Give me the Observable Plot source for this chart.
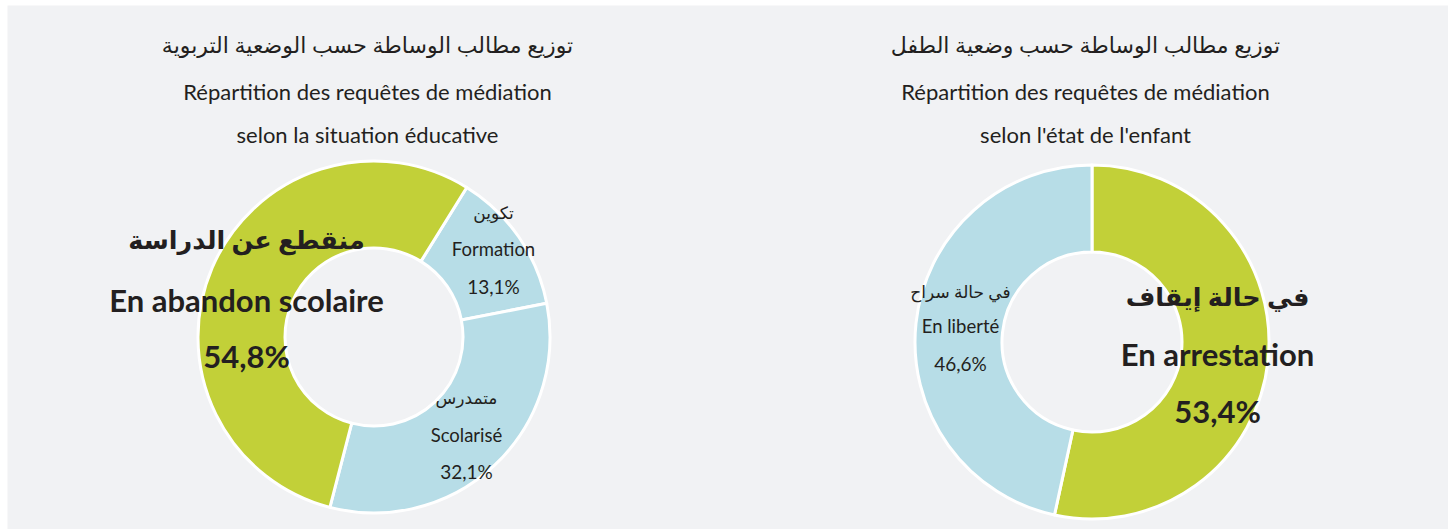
<!DOCTYPE html>
<html><head><meta charset="utf-8">
<script src="https://cdn.jsdelivr.net/npm/d3@7"></script>
<script src="https://cdn.jsdelivr.net/npm/@observablehq/plot@0.6"></script>
<style>body{margin:0;background:#fff;} svg{display:block;}</style>
</head><body><div id="chart"></div>
<script>
// ---- data ----
const eduCategories = ["Formation", "Scolarisé", "En abandon scolaire"];
const eduArabic = ["تكوين", "متمدرس", "منقطع عن الدراسة"];
const eduValues = [13.1, 32.1, 54.8];
const eduLabels = ["13,1%", "32,1%", "54,8%"];

const childCategories = ["En arrestation", "En liberté"];
const childArabic = ["في حالة إيقاف", "في حالة سراح"];
const childValues = [53.4, 46.6];
const childLabels = ["53,4%", "46,6%"];

const titlesArabic = ["توزيع مطالب الوساطة حسب الوضعية التربوية", "توزيع مطالب الوساطة حسب وضعية الطفل"];
const titlesLine1 = ["Répartition des requêtes de médiation", "Répartition des requêtes de médiation"];
const titlesLine2 = ["selon la situation éducative", "selon l'état de l'enfant"];

const highlighted = ["En abandon scolaire", "En arrestation"];

// ---- layout / style ----
const W = 1448, H = 529;
const GREEN = "#c2d038", BLUE = "#b7dde7", INK = "#231f20", BG = "#f1f2f4";
const FONT = "Lato, 'DejaVu Sans', sans-serif";
const donuts = [
  {cats: eduCategories, vals: eduValues, cx: 374, cy: 337, r0: 89, r1: 176, start: 31.8},
  {cats: childCategories, vals: childValues, cx: 1092, cy: 342, r0: 90, r1: 177, start: 0}
];
const titlePos = [{x: 367, y: [45, 92, 135]}, {x: 1085, y: [45, 92, 135]}];
// label anchor per category: x, and y of the three lines
const labelPos = {
  "Formation": {x: 493, y: [213, 250, 287]},
  "Scolarisé": {x: 466, y: [398, 436, 472]},
  "En abandon scolaire": {x: 246, y: [240, 302, 358]},
  "En arrestation": {x: 1217, y: [297, 356, 413]},
  "En liberté": {x: 960, y: [292, 327, 364]}
};

const color = Plot.scale({
  color: {
    type: "ordinal",
    domain: [...eduCategories, ...childCategories],
    range: [...eduCategories, ...childCategories].map(c => highlighted.includes(c) ? GREEN : BLUE)
  }
});

// ---- text rows ----
const titleRows = [];
titlePos.forEach((p, i) => {
  titleRows.push({text: titlesArabic[i], x: p.x, y: p.y[0], ar: true});
  titleRows.push({text: titlesLine1[i], x: p.x, y: p.y[1], ar: false});
  titleRows.push({text: titlesLine2[i], x: p.x, y: p.y[2], ar: false});
});
const smallRows = [], bigRows = [];
function addLabels(cats, ar, pct) {
  cats.forEach((c, i) => {
    const p = labelPos[c];
    const target = highlighted.includes(c) ? bigRows : smallRows;
    target.push({text: ar[i], x: p.x, y: p.y[0], ar: true});
    target.push({text: c, x: p.x, y: p.y[1], ar: false});
    target.push({text: pct[i], x: p.x, y: p.y[2], ar: false, pct: true});
  });
}
addLabels(eduCategories, eduArabic, eduLabels);
addLabels(childCategories, childArabic, childLabels);

// ---- donut mark (uses Plot's x/y scales for placement) ----
function donutMark(d) {
  return (index, scales) => {
    const rad = Math.PI / 180;
    const arcs = d3.pie().sort(null).startAngle(d.start * rad).endAngle(d.start * rad + 2 * Math.PI)(d.vals);
    const g = d3.create("svg:g")
      .attr("transform", `translate(${scales.x(d.cx)},${scales.y(d.cy)})`);
    g.selectAll("path").data(arcs).join("path")
      .attr("d", d3.arc().innerRadius(d.r0).outerRadius(d.r1))
      .attr("fill", (a, i) => color.apply(d.cats[i]))
      .attr("stroke", "#fff").attr("stroke-width", 3).attr("stroke-linejoin", "round");
    return g.node();
  };
}

const chart = Plot.plot({
  width: W, height: H,
  marginLeft: 7, marginTop: 5, marginRight: 0, marginBottom: 0,
  x: {type: "identity", axis: null}, y: {type: "identity", axis: null},
  style: {background: "#fff", fontFamily: FONT, color: INK, overflow: "visible"},
  marks: [
    Plot.frame({fill: BG, stroke: null}),
    ...donuts.map(donutMark),
    Plot.text(titleRows, {x: "x", y: "y", text: "text", fill: INK,
      fontSize: r => r.ar ? 22 : 22, fontFamily: FONT}),
    Plot.text(smallRows, {x: "x", y: "y", text: "text", fill: INK,
      fontSize: r => r.ar ? 17 : (r.pct ? 19 : 18.5), fontFamily: FONT}),
    Plot.text(bigRows, {x: "x", y: "y", text: "text", fill: INK, fontWeight: "bold",
      fontSize: r => r.ar ? 25.5 : 31, fontFamily: FONT})
  ]
});
document.getElementById("chart").append(chart);
</script>
</body></html>
